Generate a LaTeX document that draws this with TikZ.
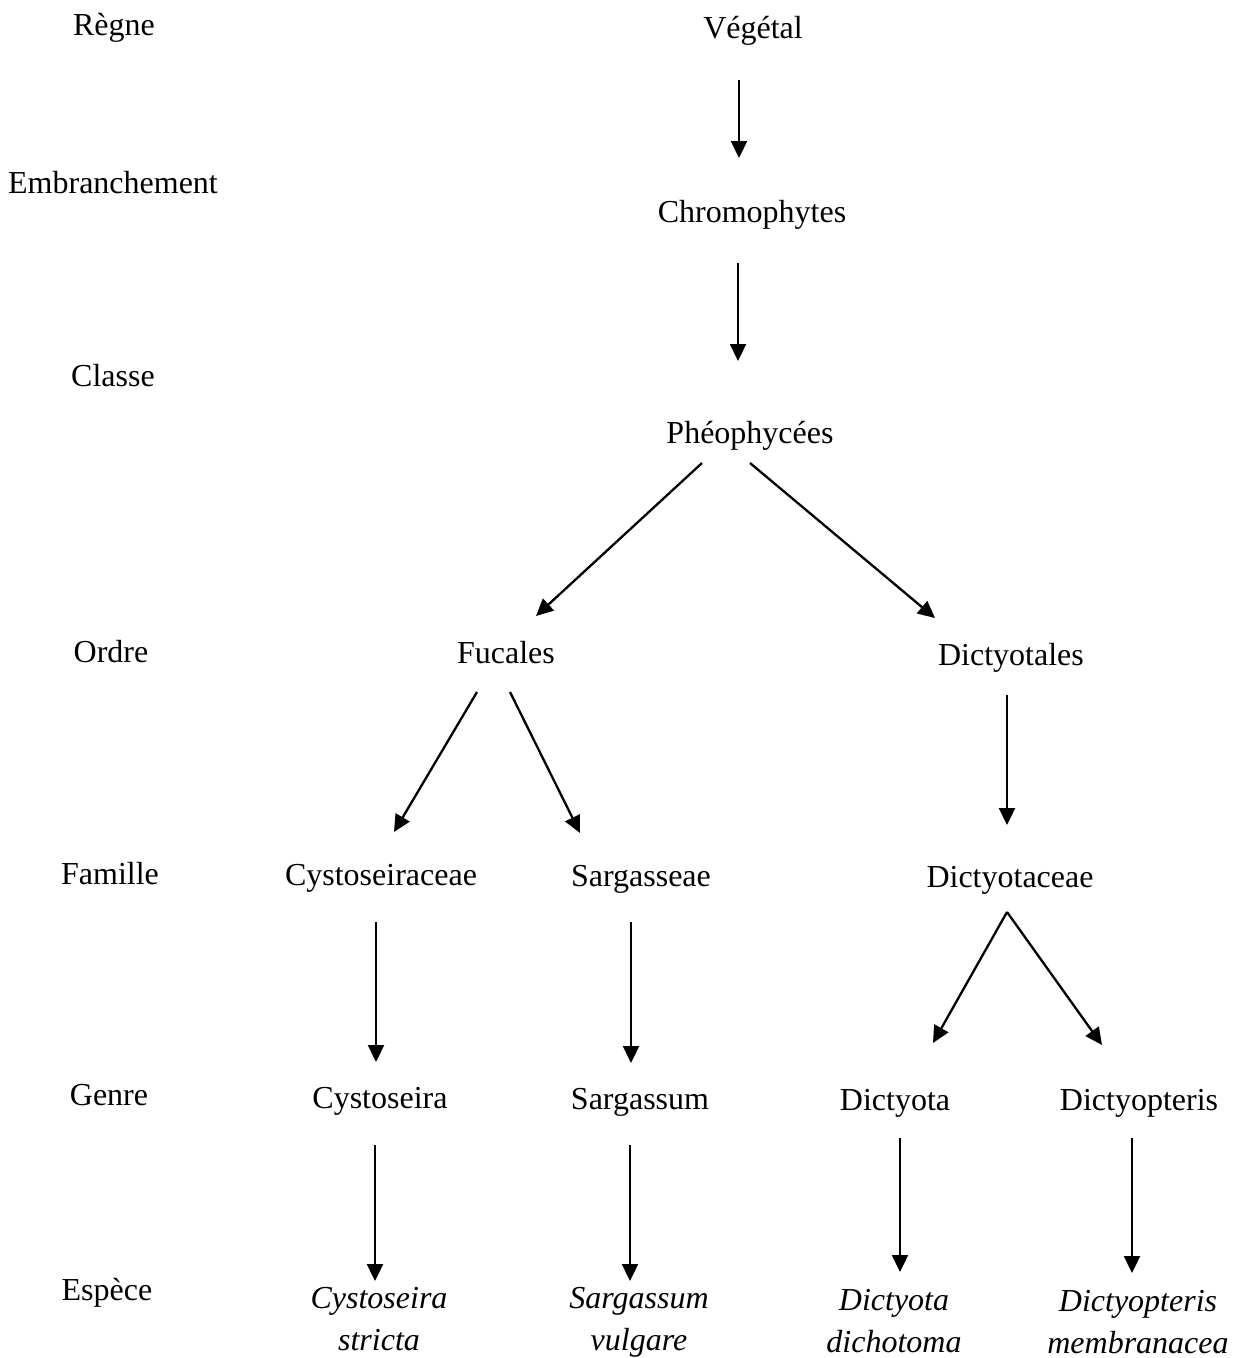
\documentclass[tikz,border=0pt]{standalone}
\usepackage{fontspec}
\setmainfont{Liberation Serif}
\usepackage{tikz}
\usetikzlibrary{arrows.meta, positioning}
\tikzset{
x=1pt, y=-1pt, % one unit is one pixel of the page, y runs downwards
>={Triangle[length=17pt, width=16pt]}, % filled triangle heads
every node/.style={inner sep=0pt, anchor=base, font=\fontsize{32}{42}\selectfont}, % all texts sit on their baseline
rank/.style={}, % labels of the left column
taxon/.style={}, % names in the tree
species/.style={align=center, font=\fontsize{32}{42}\selectfont\itshape}, % two-line italic names, base = last line
}
\tikzset{
  link/.style={->, line width=2.3pt, black}
}

\begin{document}
\begin{tikzpicture}
      \useasboundingbox (0,0) rectangle (1241,1358);
      % ranks
      \node[rank] (regne) at (114,35) {Règne};
      \node[rank] (embr) at (113,193) {Embranchement};
      \node[rank] (classe) at (113,386) {Classe};
      \node[rank] (ordre) at (111,662) {Ordre};
      \node[rank] (famille) at (110,884) {Famille};
      \node[rank] (genre) at (109,1105) {Genre};
      \node[rank] (espece) at (107,1300) {Espèce};

      % tree
      \node[taxon] (veg) at (753,38) {Végétal};
      \node[taxon] (chromo) at (752,222) {Chromophytes};
      \node[taxon] (pheo) at (750,443) {Phéophycées};
      \node[taxon] (fuc) at (506,663) {Fucales};
      \node[taxon] (dicto) at (1011,665) {Dictyotales};
      \node[taxon] (cystoc) at (381,885) {Cystoseiraceae};
      \node[taxon] (sargc) at (641,886) {Sargasseae};
      \node[taxon] (dictc) at (1010,887) {Dictyotaceae};
      \node[taxon] (cysto) at (380,1108) {Cystoseira};
      \node[taxon] (sarg) at (640,1109) {Sargassum};
      \node[taxon] (dicty) at (895,1110) {Dictyota};
      \node[taxon] (dictyop) at (1139,1110) {Dictyopteris};
      \node[species] (cystos) at (379,1350) {Cystoseira\\stricta};
      \node[species] (sargv) at (639,1350) {Sargassum\\vulgare};
      \node[species] (dictd) at (894,1352) {Dictyota\\dichotoma};
      \node[species] (dictm) at (1138,1353) {Dictyopteris\\membranacea};

      \draw[link] ([shift={(-14,42)}]veg.base) -- ([shift={(-13,-64)}]chromo.base);
      \draw[link] ([shift={(-14,41)}]chromo.base) -- ([shift={(-12,-82)}]pheo.base);
      \draw[link] ([shift={(-48,20)}]pheo.base) -- ([shift={(30,-47)}]fuc.base);
      \draw[link] ([shift={(0,20)}]pheo.base) -- ([shift={(-76,-47)}]dicto.base);
      \draw[link] ([shift={(-29,29)}]fuc.base) -- ([shift={(13,-53)}]cystoc.base);
      \draw[link] ([shift={(4,29)}]fuc.base) -- ([shift={(-61,-53)}]sargc.base);
      \draw[link] ([shift={(-4,30)}]dicto.base) -- ([shift={(-3,-62)}]dictc.base);
      \draw[link] ([shift={(-5,37)}]cystoc.base) -- ([shift={(-4,-46)}]cysto.base);
      \draw[link] ([shift={(-10,36)}]sargc.base) -- ([shift={(-9,-46)}]sarg.base);
      \draw[link] ([shift={(-3,25)}]dictc.base) -- ([shift={(38,-67)}]dicty.base);
      \draw[link] ([shift={(-3,25)}]dictc.base) -- ([shift={(-37,-65)}]dictyop.base);
      \draw[link] ([shift={(-5,37)}]cysto.base) -- ([shift={(-4,-69)}]cystos.base);
      \draw[link] ([shift={(-10,36)}]sarg.base) -- ([shift={(-9,-69)}]sargv.base);
      \draw[link] ([shift={(5,28)}]dicty.base) -- ([shift={(6,-80)}]dictd.base);
      \draw[link] ([shift={(-7,28)}]dictyop.base) -- ([shift={(-6,-80)}]dictm.base);
\end{tikzpicture}
\end{document}
